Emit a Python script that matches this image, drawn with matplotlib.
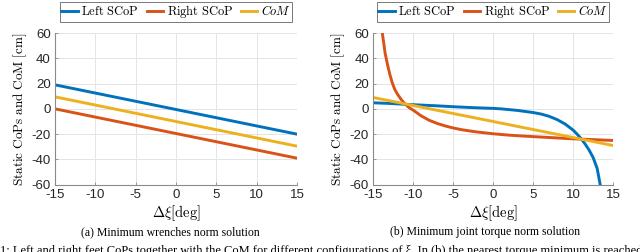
import matplotlib
matplotlib.use("Agg")
import matplotlib.pyplot as plt

plt.rcParams["mathtext.fontset"] = "cm"
plt.rcParams["font.family"] = "Liberation Sans"
plt.rcParams["axes.unicode_minus"] = False

# (a) minimum wrenches norm solution
xi_a = [-15, -10, -5, 0, 5, 10, 15]
left_a = [19, 12.5, 6, -0.5, -7, -13.5, -20]
right_a = [0, -6.5, -13, -19.5, -26, -32.5, -39]
com_a = [9.5, 3, -3.5, -10, -16.5, -23, -29.5]

# (b) minimum joint torque norm solution
xi_b_left = [-15, -13, -11, -9, -7, -5, -3, -1, 0, 1, 3, 5, 6, 7, 8, 9, 10,
             10.5, 11, 11.5, 12, 12.5, 13, 13.4]
left_b = [4.8, 4.3, 3.6, 3.0, 2.4, 1.7, 1.1, 0.6, 0.4, 0.0, -1.2, -2.9, -4.1,
          -5.9, -8.5, -12.0, -16.8, -20.0, -23.6, -27.8, -32.6, -38.5, -47, -60.5]
xi_b_right = [-13.85, -13.5, -13.2, -12.9, -12.6, -12.3, -12, -11.5, -11, -10.5,
              -10, -9, -8, -7, -6, -5, -4, -3, -2, -1, 0, 2, 4, 6, 8, 10, 12, 15]
right_b = [60, 44, 35, 27, 20.5, 15.5, 12, 7.5, 3.8, 1.0, -1.0, -5.5, -9.0,
           -11.5, -13.5, -15.1, -16.4, -17.4, -18.3, -19.0, -19.7, -20.8, -21.6,
           -22.3, -23.0, -23.7, -24.2, -25.0]
xi_b_com = [-15, 15]
com_b = [9, -29]

labels = [r"$\mathrm{Left\ SCoP}$", r"$\mathrm{Right\ SCoP}$", r"$CoM$"]
colors = ["#0072BD", "#D95319", "#EDB120"]
xticks = [-15, -10, -5, 0, 5, 10, 15]
yticks = [-60, -40, -20, 0, 20, 40, 60]

fig = plt.figure(figsize=(6.4, 2.52), dpi=100)
ax_a = fig.add_axes([0.086, 0.267, 0.378, 0.602])
ax_b = fig.add_axes([0.583, 0.267, 0.375, 0.602])

ax_a.plot(xi_a, left_a, color=colors[0], lw=2.1, label=labels[0])
ax_a.plot(xi_a, right_a, color=colors[1], lw=2.1, label=labels[1])
ax_a.plot(xi_a, com_a, color=colors[2], lw=2.1, label=labels[2])

ax_b.plot(xi_b_left, left_b, color=colors[0], lw=2.1, label=labels[0])
ax_b.plot(xi_b_right, right_b, color=colors[1], lw=2.1, label=labels[1])
ax_b.plot(xi_b_com, com_b, color=colors[2], lw=2.1, label=labels[2])

for ax in (ax_a, ax_b):
    ax.set_xlim(-15, 15)
    ax.set_ylim(-60, 60)
    ax.set_xticks(xticks)
    ax.set_yticks(yticks)
    ax.grid(True, color="#e4e4e4", lw=0.7)
    ax.set_axisbelow(True)
    for s in ("top", "right"):
        ax.spines[s].set_visible(False)
    for s in ("left", "bottom"):
        ax.spines[s].set_color("#8a8a8a")
        ax.spines[s].set_linewidth(0.8)
    ax.tick_params(direction="in", length=2.5, width=0.6, color="#8a8a8a",
                   labelsize=9.5, labelcolor="#262626", pad=3)
    ax.set_xlabel(r"$\Delta\xi[\mathrm{deg}]$", fontsize=10.5, labelpad=2)
    ax.set_ylabel(r"$\mathrm{Static\ CoPs\ and\ CoM\ [cm]}$", fontsize=9.5, labelpad=2)
    leg = ax.legend(loc="lower center", bbox_to_anchor=(0.5, 1.075), ncol=3,
                    fontsize=9, handlelength=1.3, handletextpad=0.3,
                    columnspacing=0.6, borderpad=0.1, borderaxespad=0,
                    frameon=True, fancybox=False)
    leg.get_frame().set_edgecolor("#555555")
    leg.get_frame().set_linewidth(0.7)

fig.text(170 / 640, 1 - 232 / 252, "(a) Minimum wrenches norm solution",
         ha="center", va="center", fontsize=8.5, family="Liberation Serif")
fig.text(485 / 640, 1 - 232 / 252, "(b) Minimum joint torque norm solution",
         ha="center", va="center", fontsize=8.5, family="Liberation Serif")
fig.text(0.0, 1 - 245 / 252,
         "1: Left and right feet CoPs together with the CoM for different configurations of \u03be. "
         "In (b) the nearest torque minimum is reached and",
         ha="left", va="top", fontsize=9, family="Liberation Serif")

fig.savefig("out.png", dpi=100)
